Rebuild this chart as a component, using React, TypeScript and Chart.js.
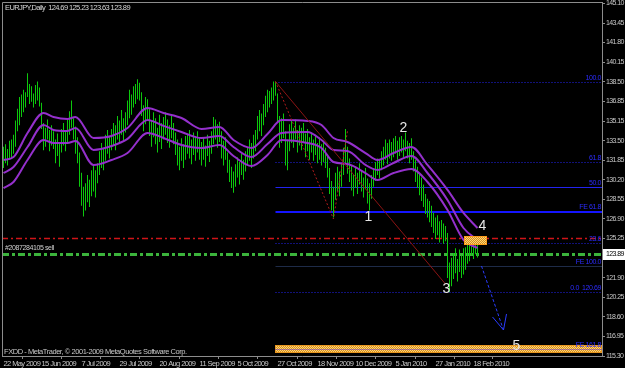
import React, { useEffect, useRef } from 'react';
import { Chart, registerables } from 'chart.js';

Chart.register(...registerables);

const FONT = '"Liberation Sans", Arial, sans-serif';

const symbolTitle = 'EURJPY,Daily  124.69 125.23 123.63 123.89';
const copyright = 'FXDD - MetaTrader, \u00a9 2001-2009 MetaQuotes Software Corp.';
const orderLabel = '#2087284105 sell';
const lastPrice = 123.89;

const dateLabels = ['22 May 2009', '15 Jun 2009', '7 Jul 2009', '29 Jul 2009', '20 Aug 2009', '11 Sep 2009', '5 Oct 2009', '27 Oct 2009', '18 Nov 2009', '10 Dec 2009', '5 Jan 2010', '27 Jan 2010', '18 Feb 2010'];
const dateIdx = [0, 19, 39, 58, 78, 98, 117, 137, 157, 176, 196, 216, 235];
const yTicks = [145.10, 143.45, 141.80, 140.15, 138.50, 136.85, 135.15, 133.50, 131.85, 130.20, 128.55, 126.90, 125.25, 121.90, 120.25, 118.60, 116.95, 115.30];

const barLow = [
  131.2, 131.6, 131.4, 131.9, 132.1, 132.4, 133.0, 134.3, 134.8, 135.5,
  135.9, 136.3, 137.2, 136.6, 136.8, 136.3, 136.6, 136.9, 136.4, 134.5,
  132.7, 133.0, 133.6, 132.6, 133.1, 132.8, 131.6, 132.2, 131.3, 132.5,
  133.1, 132.6, 133.4, 134.0, 134.6, 133.6, 132.4, 131.6, 129.6, 128.0,
  127.1, 127.6, 128.3, 127.9, 128.8, 129.2, 128.7, 129.9, 130.6, 131.2,
  131.0, 131.8, 132.4, 132.0, 132.7, 133.1, 132.7, 133.6, 133.3, 134.0,
  133.5, 134.2, 134.8, 135.4, 135.7, 136.3, 136.6, 137.0, 136.9, 135.6,
  134.3, 134.9, 135.3, 133.9, 133.0, 133.8, 133.2, 132.5, 133.4, 132.8,
  133.6, 134.0, 133.3, 132.9, 133.7, 133.2, 132.3, 131.4, 131.0, 131.8,
  131.2, 131.9, 132.4, 132.0, 131.5, 132.3, 131.8, 132.5, 131.9, 131.4,
  131.9, 131.3, 132.2, 131.7, 132.4, 133.2, 133.6, 132.9, 133.4, 132.0,
  131.4, 131.9, 130.8, 130.0, 129.5, 129.1, 129.6, 130.4, 129.8, 130.6,
  130.2, 130.9, 131.4, 131.8, 131.2, 132.0, 132.6, 133.6, 134.3, 133.9,
  134.8, 135.5, 135.9, 136.3, 136.6, 136.9, 137.3, 135.0, 132.9, 133.3,
  133.7, 131.4, 131.0, 132.6, 133.3, 132.9, 133.6, 132.5, 133.1, 132.7,
  133.3, 132.1, 132.6, 131.9, 132.5, 131.8, 132.3, 131.6, 131.9, 131.4,
  131.7, 131.2, 130.4, 129.0, 127.6, 127.0, 128.5, 129.2, 128.8, 129.6,
  130.6, 131.6, 130.7, 130.0, 129.3, 128.8, 129.5, 129.0, 129.8, 129.2,
  128.7, 129.4, 128.2, 127.6, 128.6, 129.6, 130.1, 130.6, 130.3, 131.0,
  131.4, 131.9, 131.5, 132.0, 131.8, 132.1, 132.4, 131.9, 132.2, 132.5,
  132.1, 132.6, 132.0, 131.6, 131.9, 130.9, 130.0, 129.5, 128.9, 128.4,
  127.9, 127.3, 127.0, 126.6, 126.2, 125.7, 125.2, 125.5, 124.9, 125.3,
  124.8, 125.0, 121.9, 120.7, 121.2, 121.8, 122.3, 121.6, 122.4, 121.9,
  122.2, 122.6, 123.1, 123.3, 123.8, 123.5, 123.9, 123.63,
];
const barHigh = [
  133.0, 133.2, 132.8, 133.5, 133.6, 134.0, 135.2, 136.2, 137.2, 137.4,
  137.8, 137.6, 139.2, 138.3, 138.1, 137.5, 138.2, 138.5, 138.0, 136.7,
  135.0, 134.6, 135.3, 134.4, 134.8, 134.3, 133.6, 134.1, 133.4, 134.5,
  135.0, 134.3, 135.3, 136.0, 136.9, 135.4, 134.7, 133.8, 132.5, 130.8,
  129.6, 129.9, 130.6, 130.2, 131.0, 131.4, 131.0, 131.6, 132.6, 133.3,
  132.9, 134.0, 134.4, 133.8, 134.5, 135.0, 134.8, 135.6, 135.2, 136.1,
  135.4, 135.9, 136.9, 137.8, 137.4, 138.1, 138.3, 138.7, 138.4, 137.6,
  136.5, 137.2, 137.0, 136.2, 135.2, 135.9, 135.4, 134.6, 135.7, 135.0,
  135.5, 135.9, 135.3, 134.8, 135.6, 135.0, 134.2, 133.6, 133.0, 133.7,
  133.2, 133.9, 134.1, 134.4, 133.6, 134.2, 133.9, 134.3, 133.7, 133.4,
  133.8, 133.1, 134.0, 133.5, 134.3, 135.5, 135.3, 134.9, 135.1, 134.3,
  133.5, 133.8, 132.5, 131.9, 131.3, 130.9, 131.5, 132.1, 131.7, 132.4,
  131.9, 132.6, 133.0, 133.6, 133.3, 134.0, 134.4, 135.6, 136.1, 135.8,
  136.6, 137.3, 137.8, 137.7, 138.0, 138.5, 138.5, 137.5, 135.6, 135.4,
  135.8, 134.3, 133.6, 134.9, 135.2, 134.6, 135.3, 134.4, 134.8, 134.6,
  135.0, 134.1, 134.5, 133.8, 134.2, 133.6, 134.0, 133.3, 133.8, 133.2,
  133.5, 132.9, 132.3, 131.2, 130.1, 129.6, 130.8, 131.3, 130.9, 131.6,
  132.9, 134.5, 133.0, 132.0, 131.4, 130.6, 131.3, 130.8, 131.6, 131.0,
  130.4, 131.2, 130.3, 129.9, 130.6, 131.2, 131.7, 132.0, 131.9, 132.6,
  133.0, 133.6, 133.3, 133.6, 133.4, 133.7, 133.9, 133.5, 133.8, 133.9,
  133.6, 134.2, 133.5, 133.3, 133.7, 132.6, 131.9, 131.3, 130.7, 130.4,
  129.8, 129.0, 128.6, 128.4, 128.0, 127.4, 127.0, 127.2, 126.7, 126.8,
  126.5, 126.3, 125.7, 123.2, 123.6, 124.0, 124.4, 123.5, 124.3, 123.8,
  124.4, 124.5, 124.9, 125.0, 125.3, 125.1, 125.4, 125.23,
];

const maIdx = [0, 5, 12, 20, 25, 32, 36, 45, 54, 62, 72, 80, 89, 99, 108, 115, 124, 132, 139, 152, 159, 165, 172, 181, 187, 195, 204, 212, 222, 230, 237];
const maUpper = [131.87, 132.12, 134.15, 135.84, 135.51, 135.34, 135.51, 133.73, 133.90, 134.58, 136.27, 135.84, 135.42, 134.49, 134.66, 133.56, 132.89, 134.07, 135.25, 135.17, 134.83, 133.73, 133.39, 132.46, 131.87, 132.46, 132.97, 131.45, 129.34, 127.39, 126.12];
const maMid = [130.77, 131.28, 132.97, 134.83, 134.41, 134.32, 134.58, 132.72, 133.05, 133.65, 135.25, 134.75, 134.24, 133.73, 133.90, 132.97, 132.12, 133.22, 134.15, 134.24, 133.56, 132.72, 132.63, 131.45, 131.03, 131.62, 132.21, 130.77, 128.49, 126.12, 125.11];
const maLower = [129.50, 130.01, 131.87, 133.56, 133.31, 133.31, 133.48, 131.45, 131.87, 132.46, 134.15, 133.73, 133.14, 132.89, 133.14, 132.21, 131.36, 132.29, 133.56, 133.31, 132.89, 131.70, 131.53, 130.77, 130.18, 130.77, 131.11, 130.01, 127.64, 125.11, 124.43];

const fiboStart = 136;
const fiboLevels = [138.50, 131.70, 129.59, 124.89, 120.69];
const fiboNames = ['100.0', '61.8', '50.0', '23.6', '0.0  120.69'];
const feLevels = [127.48, 122.91, 115.90];
const feNames = ['FE 61.8', 'FE 100.0', 'FE 161.8'];
const stopLevel = 125.28;
const orderLevel = 123.89;

const trendIdx = [136, 221];
const trendPrice = [138.50, 121.38];
const zigIdx = [136, 165, 172];
const zigPrice = [138.50, 126.88, 134.32];
const arrowIdx = [239, 250];
const arrowPrice = [122.91, 117.50];
const waveIdx = [182.5, 200, 221.5, 239.5, 256.5];
const wavePrice = [127.05, 134.58, 120.97, 126.29, 116.15];
const waveText = ['1', '2', '3', '4', '5'];
const box4Idx = [230, 241.5];
const box4Price = [125.45, 124.69];
const bandIdx = [135.5, 299.25];
const bandPrice = [116.23, 115.56];

function hatch(ctx: CanvasRenderingContext2D) {
  const c = document.createElement('canvas');
  c.width = 2;
  c.height = 2;
  const g = c.getContext('2d')!;
  g.fillStyle = '#dc8c1e';
  g.fillRect(0, 0, 2, 2);
  g.fillStyle = '#f8d878';
  g.fillRect(0, 0, 1, 1);
  g.fillRect(1, 1, 1, 1);
  return ctx.createPattern(c, 'repeat')!;
}

function setSpacing(ctx: any, v: string) {
  if ('letterSpacing' in ctx) ctx.letterSpacing = v;
}

const overlay = {
  id: 'mtOverlay',
  beforeDraw(chart: any) {
    setSpacing(chart.ctx, '-0.6px');
  },
  beforeDatasetsDraw(chart: any) {
    const { ctx, chartArea: a, scales } = chart;
    setSpacing(ctx, '0px');
    const x = scales.x, y = scales.y;
    const X = (v: number) => x.getPixelForValue(v);
    const Y = (v: number) => Math.round(y.getPixelForValue(v)) + 0.5;
    ctx.save();
    ctx.beginPath();
    ctx.rect(a.left, a.top, a.right - a.left, a.bottom - a.top);
    ctx.clip();

    // bottom hatched band
    const bx0 = Math.round(X(bandIdx[0]));
    const by0 = Math.round(y.getPixelForValue(bandPrice[0]));
    const by1 = Math.round(y.getPixelForValue(bandPrice[1]));
    ctx.fillStyle = hatch(ctx);
    ctx.fillRect(bx0, by0, a.right - bx0, by1 - by0);
    ctx.strokeStyle = '#e8961e';
    ctx.lineWidth = 1;
    ctx.strokeRect(bx0 + 0.5, by0 + 0.5, a.right - bx0 - 1, by1 - by0 - 1);

    // fibo lines
    fiboLevels.forEach((lv, k) => {
      ctx.beginPath();
      ctx.strokeStyle = '#2323f0';
      ctx.lineWidth = 1;
      ctx.setLineDash(k === 2 ? [] : [1, 2]);
      ctx.moveTo(X(fiboStart), Y(lv));
      ctx.lineTo(a.right, Y(lv));
      ctx.stroke();
    });
    // FE lines
    feLevels.forEach((lv, k) => {
      ctx.beginPath();
      ctx.setLineDash(k === 2 ? [1, 1] : []);
      ctx.strokeStyle = k === 0 ? '#1414ff' : k === 1 ? '#1e2b48' : '#6a3cd0';
      ctx.lineWidth = k === 0 ? 2 : 1;
      const yy = k === 0 ? Math.round(y.getPixelForValue(lv)) : Y(lv);
      ctx.moveTo(X(fiboStart), yy);
      ctx.lineTo(a.right, yy);
      ctx.stroke();
    });
    // stop (red dash-dot)
    ctx.beginPath();
    ctx.setLineDash([6, 3, 2, 3]);
    ctx.strokeStyle = '#d01418';
    ctx.lineWidth = 1.5;
    ctx.moveTo(a.left, Y(stopLevel));
    ctx.lineTo(a.right, Y(stopLevel));
    ctx.stroke();
    // order (green dash-dot)
    ctx.beginPath();
    ctx.setLineDash([7, 3, 3, 3]);
    ctx.strokeStyle = '#3cb43c';
    ctx.lineWidth = 3;
    ctx.moveTo(a.left, Y(orderLevel));
    ctx.lineTo(a.right, Y(orderLevel));
    ctx.stroke();
    ctx.restore();
  },
  afterDatasetsDraw(chart: any) {
    const { ctx, chartArea: a, scales } = chart;
    const x = scales.x, y = scales.y;
    const X = (v: number) => x.getPixelForValue(v);
    const Yr = (v: number) => y.getPixelForValue(v);
    ctx.save();
    ctx.beginPath();
    ctx.rect(a.left, a.top, a.right - a.left, a.bottom - a.top);
    ctx.clip();

    // red trend line
    ctx.beginPath();
    ctx.strokeStyle = '#8c1414';
    ctx.lineWidth = 1;
    ctx.moveTo(X(trendIdx[0]), Yr(trendPrice[0]));
    ctx.lineTo(X(trendIdx[1]), Yr(trendPrice[1]));
    ctx.stroke();
    // zigzag dotted
    ctx.beginPath();
    ctx.setLineDash([2, 2]);
    ctx.strokeStyle = '#b01c1c';
    zigIdx.forEach((v, k) => {
      if (k === 0) ctx.moveTo(X(v), Yr(zigPrice[k]));
      else ctx.lineTo(X(v), Yr(zigPrice[k]));
    });
    ctx.stroke();
    // arrow
    const ax0 = X(arrowIdx[0]), ay0 = Yr(arrowPrice[0]);
    const ax1 = X(arrowIdx[1]), ay1 = Yr(arrowPrice[1]);
    ctx.beginPath();
    ctx.setLineDash([3, 2]);
    ctx.strokeStyle = '#2a3cff';
    ctx.moveTo(ax0, ay0);
    ctx.lineTo(ax1, ay1);
    ctx.stroke();
    ctx.setLineDash([]);
    ctx.beginPath();
    ctx.moveTo(ax1 - 11, ay1 - 13);
    ctx.lineTo(ax1, ay1);
    ctx.lineTo(ax1 + 3, ay1 - 16);
    ctx.stroke();

    // wave-4 box
    const qx0 = Math.round(X(box4Idx[0])), qx1 = Math.round(X(box4Idx[1]));
    const qy0 = Math.round(Yr(box4Price[0])), qy1 = Math.round(Yr(box4Price[1]));
    ctx.fillStyle = hatch(ctx);
    ctx.fillRect(qx0, qy0, qx1 - qx0, qy1 - qy0);
    ctx.strokeStyle = '#ff9c1a';
    ctx.lineWidth = 1;
    ctx.strokeRect(qx0 + 0.5, qy0 + 0.5, qx1 - qx0 - 1, qy1 - qy0 - 1);

    // level labels
    setSpacing(ctx, '-0.4px');
    ctx.font = '7px ' + FONT;
    ctx.fillStyle = '#2c2cff';
    ctx.textAlign = 'right';
    ctx.textBaseline = 'bottom';
    fiboLevels.forEach((lv, k) => ctx.fillText(fiboNames[k], a.right - 1, Math.round(Yr(lv))));
    feLevels.forEach((lv, k) => ctx.fillText(feNames[k], a.right - 1, Math.round(Yr(lv)) - (k === 0 ? 1 : 0)));

    // order label
    ctx.textAlign = 'left';
    ctx.fillStyle = '#d0d0d0';
    ctx.fillText(orderLabel, a.left + 3, Math.round(Yr(orderLevel)) - 2);
    setSpacing(ctx, '0px');

    // wave labels
    ctx.font = '14px "Liberation Sans", Arial, sans-serif';
    ctx.fillStyle = '#e6e6e6';
    ctx.textAlign = 'center';
    ctx.textBaseline = 'middle';
    waveIdx.forEach((v, k) => ctx.fillText(waveText[k], X(v), Yr(wavePrice[k])));
    ctx.restore();
  },
  afterDraw(chart: any) {
    const { ctx, chartArea: a, scales } = chart;
    const y = scales.y;
    ctx.save();
    ctx.strokeStyle = '#8c8c8c';
    ctx.lineWidth = 1;
    ctx.beginPath();
    ctx.moveTo(a.left + 0.5, a.bottom);
    ctx.lineTo(a.left + 0.5, a.top + 0.5);
    ctx.lineTo(a.right, a.top + 0.5);
    ctx.stroke();

    setSpacing(ctx, '-0.6px');
    ctx.font = '7.5px ' + FONT;
    ctx.textAlign = 'left';
    ctx.textBaseline = 'top';
    ctx.fillStyle = '#d8d8d8';
    ctx.fillText(symbolTitle, a.left + 3, a.top + 2);
    ctx.textBaseline = 'alphabetic';
    ctx.fillStyle = '#c8c8c8';
    setSpacing(ctx, '-0.45px');
    ctx.fillText(copyright, a.left + 2, a.bottom - 2);

    // current price box
    const py = Math.round(y.getPixelForValue(lastPrice));
    ctx.fillStyle = '#ffffff';
    ctx.fillRect(a.right + 1, py - 5, 24, 11);
    ctx.fillStyle = '#000000';
    ctx.textBaseline = 'middle';
    ctx.font = '7px ' + FONT;
    setSpacing(ctx, '-0.6px');
    ctx.fillText(lastPrice.toFixed(2), a.right + 4, py + 0.5);
    setSpacing(ctx, '0px');
    ctx.restore();
  },
};

export default function App() {
  const ref = useRef<HTMLCanvasElement | null>(null);
  useEffect(() => {
    if (!ref.current) return;
    const line = (vals: number[]) => ({
      type: 'line',
      data: maIdx.map((v, k) => ({ x: v, y: vals[k] })),
      borderColor: '#9430cc',
      borderWidth: 2,
      pointRadius: 0,
      cubicInterpolationMode: 'monotone',
    });
    const chart = new Chart(ref.current, {
      type: 'bar',
      data: {
        datasets: [
          line(maUpper),
          line(maMid),
          line(maLower),
          {
            type: 'bar',
            data: barLow.map((lo, i) => ({ x: i, y: [lo, barHigh[i]] })),
            backgroundColor: '#0cc80c',
            borderWidth: 0,
            barThickness: 1,
            inflateAmount: 0,
            grouped: false,
          } as any,
        ],
      },
      options: {
        animation: false,
        responsive: false,
        devicePixelRatio: 1,
        layout: { padding: { left: 2, top: 2, right: 0, bottom: 0 } },
        plugins: { legend: { display: false }, tooltip: { enabled: false } },
        scales: {
          x: {
            type: 'linear',
            offset: false,
            min: -0.75,
            max: 299.25,
            afterBuildTicks: (s: any) => {
              s.ticks = dateIdx.map((v) => ({ value: v }));
            },
            afterFit: (s: any) => {
              s.height = 12;
              s.paddingLeft = 0;
              s.paddingRight = 0;
            },
            ticks: {
              autoSkip: false,
              maxRotation: 0,
              align: 'start',
              padding: 0,
              color: '#c8c8c8',
              font: { family: FONT, size: 7.5 },
              callback: (v: any) => {
                const k = dateIdx.indexOf(Number(v));
                return k >= 0 ? dateLabels[k] : '';
              },
            },
            grid: { display: true, drawOnChartArea: false, drawTicks: true, tickLength: 3, color: '#8c8c8c' },
            border: { display: true, color: '#8c8c8c' },
          },
          y: {
            type: 'linear',
            position: 'right',
            min: 115.30,
            max: 145.227,
            afterBuildTicks: (s: any) => {
              s.ticks = yTicks.map((v) => ({ value: v }));
            },
            afterFit: (s: any) => {
              s.width = 23;
              s.paddingTop = 0;
              s.paddingBottom = 0;
            },
            ticks: {
              autoSkip: false,
              padding: 1,
              color: '#c8c8c8',
              font: { family: FONT, size: 7 },
              callback: (v: any) => Number(v).toFixed(2),
            },
            grid: { display: true, drawOnChartArea: false, drawTicks: true, tickLength: 3, color: '#8c8c8c' },
            border: { display: true, color: '#8c8c8c' },
          },
        },
      },
      plugins: [overlay],
    } as any);
    return () => chart.destroy();
  }, []);

  return (
    <div style={{ position: 'fixed', left: 0, top: 0, width: 625, height: 368, background: '#000' }}>
      <canvas ref={ref} width={625} height={368} style={{ display: 'block', width: 625, height: 368 }} />
    </div>
  );
}
